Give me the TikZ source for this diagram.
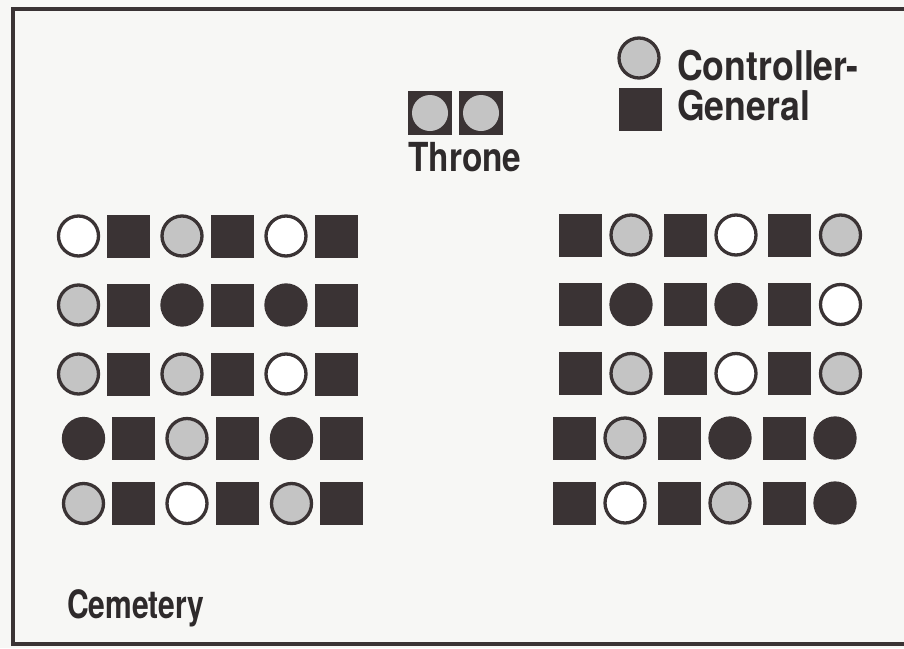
\documentclass[tikz,border=0pt]{standalone}
\usepackage{fontspec}
\setmainfont{TeX Gyre Heros}
\newfontfamily\narrowA[FakeStretch=0.87]{TeX Gyre Heros}
\newfontfamily\narrowB[FakeStretch=0.835]{TeX Gyre Heros}
\newfontfamily\narrowC[FakeStretch=0.77]{TeX Gyre Heros}
\definecolor{ink}{HTML}{3A3334}
\definecolor{lightg}{HTML}{C4C4C4}
\definecolor{paper}{HTML}{F7F7F5}
\definecolor{txt}{HTML}{2E2A2B}
\tikzset{
  sqbox/.style={rectangle, fill=ink, draw=none, inner sep=0pt, minimum size=43pt},
  cW/.style={circle, fill=white, draw=ink, line width=3.3pt, inner sep=0pt, minimum size=40pt},
  cG/.style={circle, fill=lightg, draw=ink, line width=3.3pt, inner sep=0pt, minimum size=40pt},
  cD/.style={circle, fill=ink, draw=ink, line width=3.3pt, inner sep=0pt, minimum size=40pt},
  lbl/.style={anchor=base west, inner sep=0pt, text=txt},
  frame/.style={draw=ink, line width=4pt}
}
\begin{document}
\begin{tikzpicture}[x=1pt,y=-1pt]
\useasboundingbox (0,0) rectangle (904,648);
\fill[paper] (0,0) rectangle (904,648);
% frame
\coordinate (ftr) at (904,8.5);
\coordinate (ftl) at (12.5,8.5);
\coordinate (fbl) at (12.5,644);
\coordinate (fbr) at (904,644);
\draw[frame] (ftr) -- (ftl) -- (fbl) -- (fbr);
% left seats: circle then square
\foreach \n/\cx/\cy/\t in {
  a1/78.5/236/cW, a2/182/236/cG, a3/286/236/cW,
  b1/78.5/305/cG, b2/182/305/cD, b3/286/305/cD,
  c1/78.5/374/cG, c2/182/374/cG, c3/286/374/cW,
  d1/83.5/438.5/cD, d2/187/438.5/cG, d3/291.5/438.5/cD,
  e1/83.5/503.5/cG, e2/187/503.5/cW, e3/291.5/503.5/cG}{
  \node[\t] (\n c) at (\cx,\cy) {};
  \node[sqbox] (\n s) at (\cx+50,\cy) {};
}
% right seats: square then circle
\foreach \n/\cx/\cy/\t in {
  f1/631/235/cG, f2/736/235/cW, f3/840.5/235/cG,
  g1/631/304.5/cD, g2/736/304.5/cD, g3/840.5/304.5/cW,
  h1/631/373.5/cG, h2/736/373.5/cW, h3/840.5/373.5/cG,
  i1/625/438/cG, i2/730/438/cD, i3/835/438/cD,
  j1/625/503/cW, j2/730/503/cG, j3/835/503/cD}{
  \node[\t] (\n c) at (\cx,\cy) {};
  \node[sqbox] (\n s) at (\cx-51,\cy) {};
}
% throne
\node[sqbox, minimum size=44pt] (th1) at (430,113) {};
\node[sqbox, minimum size=44pt] (th2) at (481,113) {};
\node[circle, fill=lightg, inner sep=0pt, minimum size=36pt] (th1c) at (th1) {};
\node[circle, fill=lightg, inner sep=0pt, minimum size=36pt] (th2c) at (th2) {};
\node[lbl, font=\narrowB\bfseries\fontsize{40}{40}\selectfont] (throne) at (408,171) {Throne};
% legend
\node[cG] (lgc) at (639,58) {};
\node[sqbox] (lgs) at (640,109) {};
\node[lbl, font=\narrowA\bfseries\fontsize{41}{41}\selectfont] (ctrl) at (677,80) {Controller-};
\node[lbl, font=\narrowA\bfseries\fontsize{41}{41}\selectfont] (gen) at (677,120) {General};
% cemetery
\node[lbl, font=\narrowC\bfseries\fontsize{39}{39}\selectfont] (cem) at (67,618) {Cemetery};
\end{tikzpicture}
\end{document}
